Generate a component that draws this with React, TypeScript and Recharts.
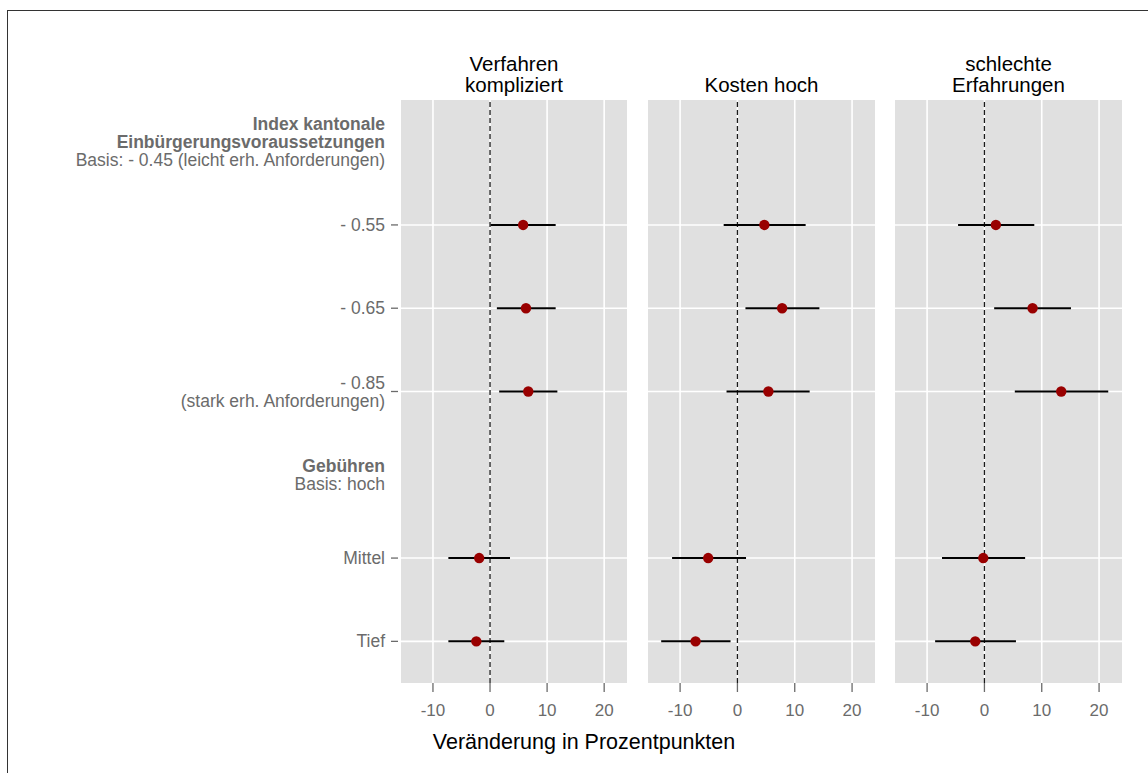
import React from "react";
import {
  CartesianGrid,
  ErrorBar,
  ReferenceLine,
  Scatter,
  ScatterChart,
  XAxis,
  YAxis,
} from "recharts";

// rows from top to bottom; header rows carry no estimate
const rowLabels: string[][] = [
  ["Index kantonale", "Einbürgerungsvoraussetzungen", "Basis: - 0.45 (leicht erh. Anforderungen)"],
  ["- 0.55"],
  ["- 0.65"],
  ["- 0.85", "(stark erh. Anforderungen)"],
  ["Gebühren", "Basis: hoch"],
  ["Mittel"],
  ["Tief"],
];
const headerRows = [0, 4];
// number of bold lines in each header row
const headerBoldLines: Record<number, number> = { 0: 2, 4: 1 };
const dataRows = [1, 2, 3, 5, 6];

const panelTitles = [["Verfahren", "kompliziert"], ["Kosten hoch"], ["schlechte", "Erfahrungen"]];

const verfahrenEst = [5.8, 6.3, 6.7, -1.9, -2.4];
const verfahrenLo = [0.1, 1.2, 1.6, -7.3, -7.3];
const verfahrenHi = [11.5, 11.5, 11.8, 3.5, 2.5];

const kostenEst = [4.7, 7.8, 5.4, -5.1, -7.3];
const kostenLo = [-2.4, 1.4, -1.9, -11.4, -13.3];
const kostenHi = [11.9, 14.3, 12.6, 1.5, -1.2];

const erfahrungEst = [2.0, 8.4, 13.4, -0.2, -1.6];
const erfahrungLo = [-4.6, 1.7, 5.3, -7.4, -8.6];
const erfahrungHi = [8.7, 15.1, 21.6, 7.1, 5.5];

const xTicks = [-10, 0, 10, 20];
const xDomain: [number, number] = [-15.6, 24];
const yTicks = rowLabels.map((_, i) => i);

const xTitle = "Veränderung in Prozentpunkten";

const GREY = "#6b6b6b";
const FONT = "'Liberation Sans', Arial, Helvetica, sans-serif";

function buildRows(est: number[], lo: number[], hi: number[]) {
  return dataRows.map((row, i) => ({
    x: est[i],
    y: row,
    err: [est[i] - lo[i], hi[i] - est[i]],
  }));
}

const panels = [
  buildRows(verfahrenEst, verfahrenLo, verfahrenHi),
  buildRows(kostenEst, kostenLo, kostenHi),
  buildRows(erfahrungEst, erfahrungLo, erfahrungHi),
];

function YTick(props: any) {
  const { x, y, payload } = props;
  const idx = payload.value as number;
  const lines = rowLabels[idx] || [];
  const isHeader = headerRows.includes(idx);
  const bold = headerBoldLines[idx] || 0;
  const n = lines.length;
  return (
    <g>
      {!isHeader && <line x1={x - 10} x2={x - 3} y1={y} y2={y} stroke={GREY} strokeWidth={1.3} />}
      {lines.map((t, i) => (
        <text
          key={i}
          x={x - 16}
          y={y + (i - (n - 1) / 2) * 18}
          dy="0.35em"
          textAnchor="end"
          fill={GREY}
          fontSize={17.5}
          fontFamily={FONT}
          fontWeight={i < bold ? "bold" : "normal"}
        >
          {t}
        </text>
      ))}
    </g>
  );
}

function Dot(props: any) {
  return <circle cx={props.cx} cy={props.cy} r={5.2} fill="#990000" />;
}

function Panel({ data, showY }: { data: any[]; showY: boolean }) {
  const width = showY ? 632 : 237;
  return (
    <ScatterChart
      width={width}
      height={773}
      margin={{ top: 100, right: 5, bottom: 0, left: showY ? 0 : 5 }}
    >
      <CartesianGrid
        fill="#e0e0e0"
        stroke="#ffffff"
        strokeWidth={1.6}
        horizontalValues={dataRows}
        verticalValues={xTicks}
      />
      <XAxis
        type="number"
        dataKey="x"
        domain={xDomain}
        ticks={xTicks}
        allowDataOverflow
        height={90}
        axisLine={false}
        tickLine={{ stroke: GREY, strokeWidth: 1.3 }}
        tickSize={9}
        tickMargin={12}
        tick={{ fill: GREY, fontSize: 17, fontFamily: FONT }}
        interval={0}
      />
      <YAxis
        type="number"
        dataKey="y"
        domain={[-0.5, 6.5]}
        ticks={yTicks}
        reversed
        allowDataOverflow
        width={showY ? 401 : 0}
        hide={!showY}
        axisLine={false}
        tickLine={false}
        tickSize={0}
        tickMargin={0}
        interval={0}
        tick={<YTick />}
      />
      <ReferenceLine x={0} stroke="#1a1a1a" strokeWidth={1.3} strokeDasharray="5 3" />
      <Scatter data={data} shape={<Dot />} isAnimationActive={false}>
        <ErrorBar
          dataKey="err"
          direction="x"
          width={0}
          stroke="#000000"
          strokeWidth={2}
          isAnimationActive={false}
        />
      </Scatter>
    </ScatterChart>
  );
}

const panelLefts = [0, 643, 890];
const panelCenters = [514, 761.5, 1008.5];

export default function App() {
  return (
    <div style={{ position: "relative", width: 1148, height: 773, background: "#fff", fontFamily: FONT }}>
      <style>{`body{margin:0;overflow:hidden;}`}</style>
      <div
        style={{
          position: "absolute",
          left: 7,
          top: 10,
          width: 1141,
          height: 763,
          borderTop: "1.5px solid #333",
          borderLeft: "1.5px solid #333",
          boxSizing: "border-box",
        }}
      />
      {panels.map((d, i) => (
        <div key={i} style={{ position: "absolute", left: panelLefts[i], top: 0 }}>
          <Panel data={d} showY={i === 0} />
        </div>
      ))}
      {panelTitles.map((lines, i) => (
        <div
          key={i}
          style={{
            position: "absolute",
            left: panelCenters[i] - 120,
            width: 240,
            top: 84 - (lines.length - 0.5) * 21,
            textAlign: "center",
            fontSize: 20.5,
            lineHeight: "21px",
            color: "#000",
          }}
        >
          {lines.map((t, j) => (
            <div key={j}>{t}</div>
          ))}
        </div>
      ))}
      <div
        style={{
          position: "absolute",
          left: 584 - 200,
          width: 400,
          top: 730,
          textAlign: "center",
          fontSize: 21.5,
          lineHeight: "24px",
          color: "#000",
        }}
      >
        {xTitle}
      </div>
    </div>
  );
}
